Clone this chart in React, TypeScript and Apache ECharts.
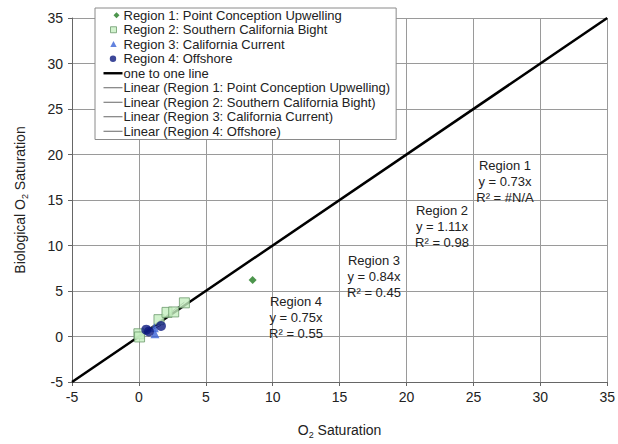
import React, { useEffect, useRef } from "react";
import * as echarts from "echarts";

// Observations per region: [O2 saturation, biological O2 saturation]
const region1Points: number[][] = [[8.5, 6.2]];
const region2Points: number[][] = [
  [0, 0.3],
  [0.05, -0.05],
  [1.5, 1.85],
  [2.1, 2.65],
  [2.6, 2.7],
  [3.4, 3.7],
];
const region3Points: number[][] = [
  [1.15, 0.95],
  [1.2, 0.3],
];
const region4Points: number[][] = [
  [0.55, 0.75],
  [0.75, 0.55],
  [1.65, 1.15],
];

// Trendline slopes (fits through origin) and the x span each one covers
const slopes = [0.73, 1.11, 0.84, 0.75];
const rSquared = ["#N/A", "0.98", "0.45", "0.55"];
const fitRanges: number[][] = [
  [8.5, 8.5],
  [0, 3.4],
  [1.15, 1.2],
  [0.55, 1.65],
];

const oneToOne: number[][] = [
  [-5, -5],
  [35, 35],
];

const seriesNames = [
  "Region 1: Point Conception Upwelling",
  "Region 2: Southern California Bight",
  "Region 3: California Current",
  "Region 4: Offshore",
];
const fitNames = [
  "Linear (Region 1: Point Conception Upwelling)",
  "Linear (Region 2: Southern California Bight)",
  "Linear (Region 3: California Current)",
  "Linear (Region 4: Offshore)",
];

const axisTicks = [-5, 0, 5, 10, 15, 20, 25, 30, 35];

const FONT = "Liberation Sans, Arial, sans-serif";

// Legend glyphs: each path spans the full 19x8 icon box (via empty move-to
// anchors in the corners) so the visible shape keeps its own size.
const BOX = "M0,0L0,0M19,8L19,8";
const ICONS = {
  diamond: `path://${BOX}M13,1L16,4L13,7L10,4Z`,
  square: `path://${BOX}M7,1L13,1L13,7L7,7Z`,
  triangle: `path://${BOX}M10,0.8L13.2,6.8L6.8,6.8Z`,
  circle: `path://${BOX}M6.3,4A3.2,3.2,0,1,1,12.7,4A3.2,3.2,0,1,1,6.3,4Z`,
  thick: `path://${BOX}M0,2.8L19,2.8L19,5.2L0,5.2Z`,
  thin: `path://${BOX}M0,3.5L19,3.5L19,4.5L0,4.5Z`,
};

const colors = {
  r1: "#1f7a1f",
  r2: "#c6efc0",
  r2Border: "#6d9a6d",
  r3: "#3b63d6",
  r4: "#0d1a80",
  fit: "#666",
};

function fitLine(i: number): number[][] {
  const [a, b] = fitRanges[i];
  return [
    [a, slopes[i] * a],
    [b, slopes[i] * b],
  ];
}

export default function App() {
  const ref = useRef<HTMLDivElement>(null);

  useEffect(() => {
    if (!ref.current) return;
    const chart = echarts.init(ref.current, undefined, { renderer: "svg" });

    const sub = {
      a: { fontSize: 14, fontFamily: FONT, color: "#222" },
      s: { fontSize: 9, fontFamily: FONT, color: "#222", padding: [9, 0, 0, 0] },
    };

    const eqBlocks = [
      { x: 505, y: 157 },
      { x: 442, y: 202 },
      { x: 374, y: 252 },
      { x: 296, y: 293 },
    ];

    const legendData = [
      { name: seriesNames[0], icon: ICONS.diamond, itemStyle: { color: colors.r1, borderWidth: 0 } },
      {
        name: seriesNames[1],
        icon: ICONS.square,
        itemStyle: { color: colors.r2, borderColor: colors.r2Border, borderWidth: 1 },
      },
      { name: seriesNames[2], icon: ICONS.triangle, itemStyle: { color: colors.r3, borderWidth: 0 } },
      { name: seriesNames[3], icon: ICONS.circle, itemStyle: { color: colors.r4, borderWidth: 0 } },
      { name: "one to one line", icon: ICONS.thick, itemStyle: { color: "#000", borderWidth: 0 } },
      ...fitNames.map((n) => ({ name: n, icon: ICONS.thin, itemStyle: { color: colors.fit, borderWidth: 0 } })),
    ];

    chart.setOption({
      animation: false,
      backgroundColor: "#fff",
      textStyle: { fontFamily: FONT },
      grid: { left: 72, right: 10, top: 18, bottom: 59, containLabel: false },
      xAxis: {
        type: "value",
        min: axisTicks[0],
        max: axisTicks[axisTicks.length - 1],
        interval: 5,
        name: "{a|O}{s|2}{a| Saturation}",
        nameLocation: "middle",
        nameGap: 39,
        nameTextStyle: { rich: sub },
        axisLine: { onZero: false, lineStyle: { color: "#666", width: 1 } },
        axisTick: { show: true, length: 4, lineStyle: { color: "#666" } },
        axisLabel: { fontSize: 14, color: "#222", fontFamily: FONT, margin: 8 },
        splitLine: { lineStyle: { color: "#9a9a9a", width: 1 } },
      },
      yAxis: {
        type: "value",
        min: axisTicks[0],
        max: axisTicks[axisTicks.length - 1],
        interval: 5,
        name: "{a|Biological O}{s|2}{a| Saturation}",
        nameLocation: "middle",
        nameGap: 43,
        nameRotate: 90,
        nameTextStyle: { rich: sub },
        axisLine: { onZero: false, lineStyle: { color: "#666", width: 1 } },
        axisTick: { show: true, length: 4, lineStyle: { color: "#666" } },
        axisLabel: { fontSize: 14, color: "#222", fontFamily: FONT, margin: 9 },
        splitLine: { lineStyle: { color: "#9a9a9a", width: 1 } },
      },
      legend: {
        orient: "vertical",
        left: 95,
        top: 8,
        padding: [0, 6, 1, 8],
        itemGap: 0,
        itemWidth: 19,
        itemHeight: 8,
        backgroundColor: "#fff",
        borderColor: "#8a8a8a",
        borderWidth: 1,
        textStyle: { fontSize: 13, color: "#222", fontFamily: FONT, lineHeight: 14.5, padding: [0, 0, 0, -4] },
        data: legendData,
      },
      graphic: eqBlocks.map((b, i) => ({
        type: "text",
        x: b.x,
        y: b.y,
        z: 10,
        style: {
          text: `Region ${i + 1}\ny = ${slopes[i].toFixed(2)}x\nR² = ${rSquared[i]}`,
          font: `13px ${FONT}`,
          fill: "#222",
          align: "center",
          verticalAlign: "top",
          lineHeight: 16,
        },
      })),
      series: [
        {
          name: "one to one line",
          type: "line",
          data: oneToOne,
          symbol: "none",
          itemStyle: { color: "#000" },
          lineStyle: { color: "#000", width: 2.5 },
          z: 2,
        },
        ...fitNames.map((n, i) => ({
          name: n,
          type: "line",
          data: fitLine(i),
          symbol: "none",
          itemStyle: { color: colors.fit },
          lineStyle: { color: colors.fit, width: 1 },
          z: 3,
        })),
        {
          name: seriesNames[0],
          type: "scatter",
          data: region1Points,
          symbol: "diamond",
          symbolSize: 8,
          itemStyle: { color: colors.r1 },
          z: 4,
        },
        {
          name: seriesNames[1],
          type: "scatter",
          data: region2Points,
          symbol: "rect",
          symbolSize: 10,
          itemStyle: { color: colors.r2, borderColor: colors.r2Border, borderWidth: 1 },
          z: 4,
        },
        {
          name: seriesNames[2],
          type: "scatter",
          data: region3Points,
          symbol: "triangle",
          symbolSize: 9,
          itemStyle: { color: colors.r3 },
          z: 5,
        },
        {
          name: seriesNames[3],
          type: "scatter",
          data: region4Points,
          symbol: "circle",
          symbolSize: 10,
          itemStyle: { color: colors.r4 },
          z: 6,
        },
      ],
    });

    return () => chart.dispose();
  }, []);

  return <div ref={ref} style={{ position: "absolute", left: 0, top: 0, width: 618, height: 444 }} />;
}
